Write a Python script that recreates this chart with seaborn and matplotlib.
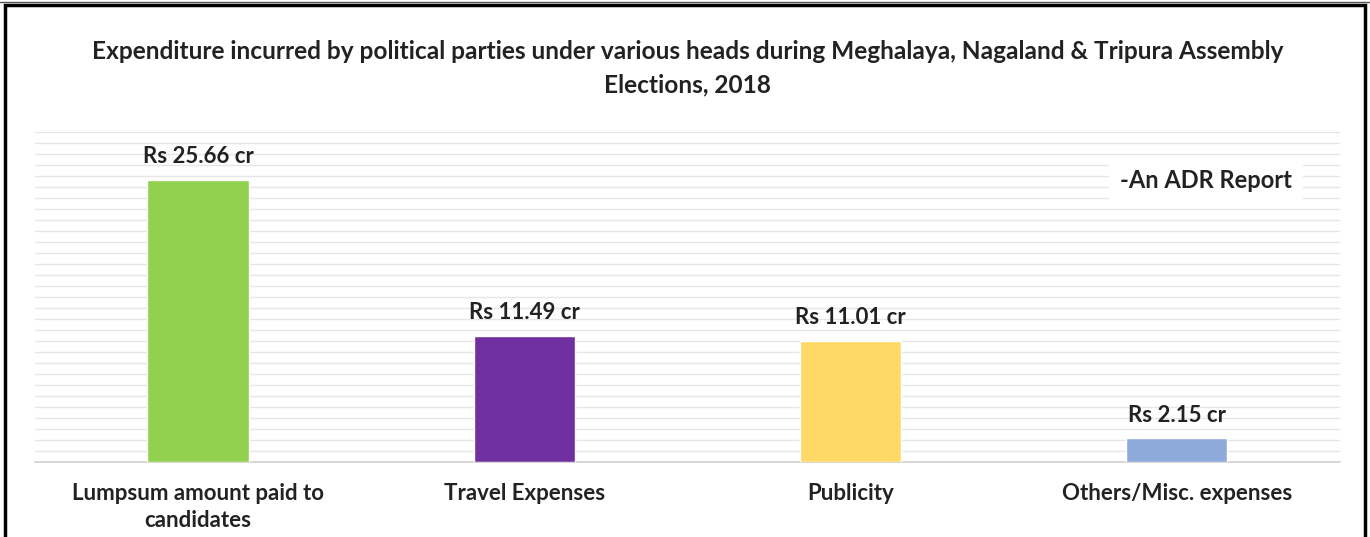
import matplotlib
matplotlib.use("Agg")
import matplotlib.pyplot as plt
import seaborn as sns
import pandas as pd
import numpy as np
from matplotlib.patches import Rectangle

categories = ["Lumpsum amount paid to\ncandidates", "Travel Expenses", "Publicity", "Others/Misc. expenses"]
values = [25.66, 11.49, 11.01, 2.15]
bar_labels = ["Rs 25.66 cr", "Rs 11.49 cr", "Rs 11.01 cr", "Rs 2.15 cr"]
colors = ["#92d050", "#7030a0", "#ffd966", "#8eaadb"]

sns.set_style("white")
plt.rcParams["font.family"] = ["Lato", "DejaVu Sans"]

df = pd.DataFrame({"head": categories, "amount": values})

fig = plt.figure(figsize=(13.7, 5.37), dpi=100)
ax = fig.add_axes([0.0255, 0.14, 0.9525, 0.614])

sns.barplot(data=df, x="head", y="amount", hue="head", palette=colors,
            legend=False, width=0.31, saturation=1, ax=ax, zorder=3)

ax.set_ylim(0, 30)
ax.set_yticks(np.arange(0, 31, 1))
ax.yaxis.grid(True, color="#e6e6e6", linewidth=1.0, zorder=0)
ax.set_axisbelow(True)
ax.tick_params(axis="y", left=False, labelleft=False)
ax.tick_params(axis="x", bottom=False, pad=12)
for lbl in ax.get_xticklabels():
    lbl.set_fontweight("bold")
    lbl.set_fontsize(16)
    lbl.set_color("#222222")
    lbl.set_linespacing(1.35)
ax.set_xlabel("")
ax.set_ylabel("")
for s in ["top", "right", "left"]:
    ax.spines[s].set_visible(False)
ax.spines["bottom"].set_color("#d0d0d0")
ax.spines["bottom"].set_linewidth(1.2)

for i, (v, t) in enumerate(zip(values, bar_labels)):
    ax.annotate(t, (i, v), xytext=(0, 9), textcoords="offset points",
                ha="center", va="bottom", fontsize=16, fontweight="bold", color="#222222")

fig.text(0.502, 0.905, "Expenditure incurred by political parties under various heads during Meghalaya, Nagaland & Tripura Assembly",
         ha="center", va="center", fontsize=17.6, fontweight="bold", color="#222222")
fig.text(0.502, 0.842, "Elections, 2018", ha="center", va="center", fontsize=17.6,
         fontweight="bold", color="#222222")

fig.text(0.88, 0.663, "-An ADR Report", ha="center", va="center", fontsize=17,
         fontweight="bold", color="#222222",
         bbox=dict(facecolor="white", edgecolor="none", pad=8), zorder=5)

# outer frame of the screenshot
fig.patches.append(Rectangle((0.004, -0.05), 0.992, 1.04, transform=fig.transFigure,
                             fill=False, edgecolor="black", linewidth=2.5))
fig.lines.append(plt.Line2D([0, 1], [0.997, 0.997], transform=fig.transFigure,
                            color="#555555", linewidth=1))

fig.savefig("out.png", dpi=100)
